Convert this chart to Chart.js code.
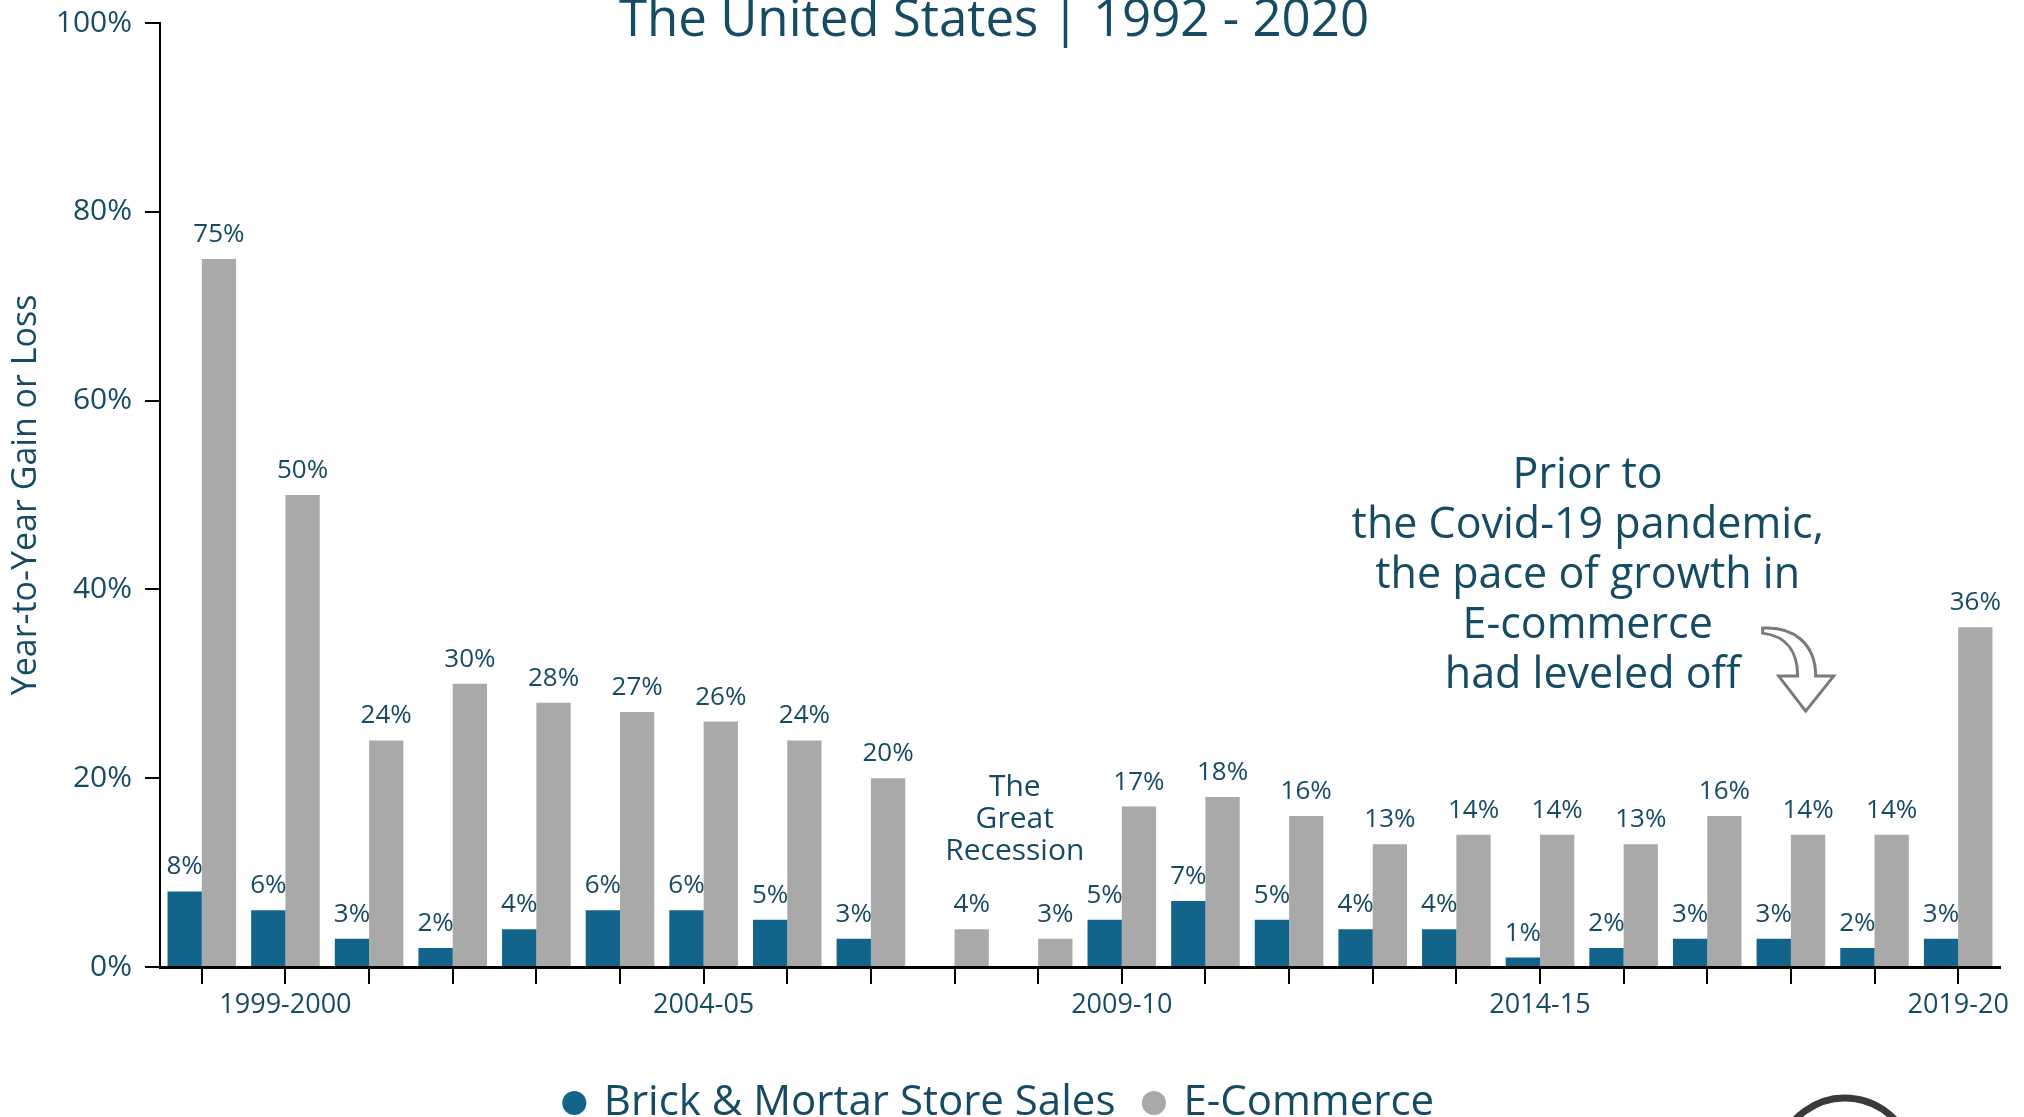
<!DOCTYPE html>
<html>
<head>
<meta charset="utf-8">
<script src="https://cdn.jsdelivr.net/npm/chart.js@4.4.1/dist/chart.umd.min.js"></script>
<style>
  html, body { margin: 0; padding: 0; background: #fff; }
  canvas { display: block; }
</style>
</head>
<body>
<canvas id="retailChart" width="2024" height="1117" style="width:2024px;height:1117px"></canvas>
<script>
// ——— data ———
const categories = ['1998-99', '1999-2000', '2000-01', '2001-02', '2002-03', '2003-04', '2004-05',
  '2005-06', '2006-07', '2007-08', '2008-09', '2009-10', '2010-11', '2011-12', '2012-13',
  '2013-14', '2014-15', '2015-16', '2016-17', '2017-18', '2018-19', '2019-20'];
const brickMortar = [8, 6, 3, 2, 4, 6, 6, 5, 3, null, null, 5, 7, 5, 4, 4, 1, 2, 3, 3, 2, 3];
const eCommerce = [75, 50, 24, 30, 28, 27, 26, 24, 20, 4, 3, 17, 18, 16, 13, 14, 14, 13, 16, 14, 14, 36];
const labeledYears = ['1999-2000', '2004-05', '2009-10', '2014-15', '2019-20'];
const yTicks = [0, 20, 40, 60, 80, 100];

const TEXT = '#164c63';
const BLUE = '#12648b';
const GREY = '#a9a9a9';
const FONT = "'Open Sans', sans-serif";

Chart.defaults.font.family = FONT;

// ——— value labels above bars ———
const valueLabels = {
  id: 'valueLabels',
  afterDatasetsDraw(chart) {
    const ctx = chart.ctx;
    ctx.save();
    ctx.fillStyle = TEXT;
    ctx.font = `26px ${FONT}`;
    ctx.textAlign = 'center';
    ctx.textBaseline = 'alphabetic';
    chart.data.datasets.forEach((ds, i) => {
      chart.getDatasetMeta(i).data.forEach((bar, j) => {
        const v = ds.data[j];
        if (v == null) return;
        ctx.fillText(v + '%', bar.x, bar.y - 17);
      });
    });
    ctx.restore();
  }
};

// ——— title + notes + arrow + logo stub ———
const notes = {
  id: 'notes',
  afterDraw(chart) {
    const ctx = chart.ctx;
    const x = chart.scales.x, y = chart.scales.y;
    const step = x.getPixelForValue(1) - x.getPixelForValue(0);
    ctx.save();
    ctx.fillStyle = TEXT;
    ctx.textAlign = 'center';

    // title (top clipped like the source)
    ctx.textBaseline = 'alphabetic';
    ctx.font = `51px ${FONT}`;
    ctx.fillText('The United States | 1992 - 2020', 994, 36);

    // recession note
    ctx.textBaseline = 'middle';
    ctx.font = `30px ${FONT}`;
    const rx = x.getPixelForValue(9) + 0.72 * step;
    const ry = y.getPixelForValue(19);
    ['The', 'Great', 'Recession'].forEach((t, k) => ctx.fillText(t, rx, ry + k * 32));

    // covid note
    ctx.font = `43px ${FONT}`;
    const cx = x.getPixelForValue(16) + 0.57 * step;
    const cy = y.getPixelForValue(52);
    ['Prior to', 'the Covid-19 pandemic,', 'the pace of growth in', 'E-commerce', 'had leveled off']
      .forEach((t, k) => ctx.fillText(t, cx + (k === 4 ? 5 : 0), cy + k * 50));

    // outline arrow
    const ax = cx + 175, ay = cy + 152;
    ctx.beginPath();
    ctx.moveTo(ax, ay);
    ctx.bezierCurveTo(ax + 30, ay - 2, ax + 53, ay + 15, ax + 53, ay + 48);
    ctx.lineTo(ax + 71, ay + 48);
    ctx.lineTo(ax + 43, ay + 83);
    ctx.lineTo(ax + 16, ay + 48);
    ctx.lineTo(ax + 35, ay + 48);
    ctx.bezierCurveTo(ax + 35, ay + 25, ax + 25, ay + 8, ax, ay + 5);
    ctx.closePath();
    ctx.fillStyle = '#fff';
    ctx.fill();
    ctx.strokeStyle = '#7a7a7a';
    ctx.lineWidth = 3;
    ctx.stroke();

    // top of the round logo, cut by the bottom edge
    ctx.beginPath();
    ctx.arc(1845, 1166, 68, Math.PI * 1.05, Math.PI * 1.95);
    ctx.strokeStyle = '#3a3a3a';
    ctx.lineWidth = 7;
    ctx.stroke();
    ctx.restore();
  }
};

new Chart(document.getElementById('retailChart'), {
  type: 'bar',
  data: {
    labels: categories,
    datasets: [
      { label: 'Brick & Mortar Store Sales', data: brickMortar, backgroundColor: BLUE,
        categoryPercentage: 0.82, barPercentage: 1.0 },
      { label: 'E-Commerce', data: eCommerce, backgroundColor: GREY,
        categoryPercentage: 0.82, barPercentage: 1.0 }
    ]
  },
  options: {
    responsive: false,
    animation: false,
    layout: { padding: { left: 0, right: 24, top: 23, bottom: -17 } },
    plugins: {
      legend: {
        position: 'bottom',
        labels: {
          usePointStyle: true, pointStyle: 'circle', boxWidth: 17, boxHeight: 17,
          padding: 30, color: TEXT, font: { size: 42 }
        }
      },
      tooltip: { enabled: false }
    },
    scales: {
      x: {
        grid: { offset: false, drawOnChartArea: false, drawTicks: true, tickLength: 17, color: '#000', lineWidth: 2 },
        border: { color: '#000', width: 3 },
        ticks: {
          autoSkip: false, maxRotation: 0, padding: 5, color: TEXT, font: { size: 27 },
          callback(v, i) { return labeledYears.includes(categories[i]) ? categories[i] : ''; }
        },
        afterFit(s) { s.height = 85; }
      },
      y: {
        min: 0, max: 100,
        afterBuildTicks(s) { s.ticks = yTicks.map(v => ({ value: v })); },
        ticks: { padding: 13, color: TEXT, font: { size: 30 }, callback: v => v + '%' },
        grid: { drawOnChartArea: false, tickLength: 15, color: '#000', lineWidth: 2 },
        border: { color: '#000', width: 2 },
        title: { display: true, text: 'Year-to-Year Gain or Loss', color: TEXT, font: { size: 34 }, padding: { top: 6, bottom: 0 } },
        afterFit(s) { s.width = 160; s.paddingTop = 0; s.paddingBottom = 0; }
      }
    }
  },
  plugins: [valueLabels, notes]
});
</script>
</body>
</html>
